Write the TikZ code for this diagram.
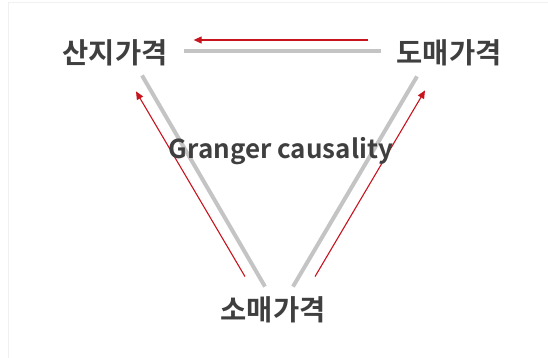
\documentclass[tikz,border=0pt]{standalone}
\usepackage{fontspec}
\usepackage{tikz}
\usetikzlibrary{arrows.meta,positioning,calc}
\newfontfamily\krfont{Noto Sans CJK KR Bold}
\definecolor{inkgray}{HTML}{3F3F3F}
\definecolor{linkgray}{HTML}{C4C4C4}
\definecolor{causered}{HTML}{C8141E}
\definecolor{framegray}{HTML}{F0F0F0}
\tikzset{
  pricebox/.style={
    inner sep=0pt, text=inkgray,
    font=\krfont\fontsize{28.5}{32}\selectfont
  },
  titlenode/.style={
    inner sep=0pt, text=inkgray,
    font=\krfont\fontsize{26}{30}\selectfont
  },
  linkline/.style={
    draw=linkgray, line width=4pt
  },
  causearrow/.style={
    -{Triangle[length=8pt, width=7pt]}, line width=1.1pt, color=causered
  },
}
\begin{document}
\begin{tikzpicture}[x=1pt, y=-1pt]
\useasboundingbox (0,0) rectangle (548,358);

% faint frame
\draw[framegray, line width=1pt] (8,358) -- (8,3) -- (548,3);

% Price nodes
\node[pricebox] (sanji) at (115,53) {산지가격};
\node[pricebox] (domae) at (449,53) {도매가격};
\node[pricebox] (somae) at (273,310) {소매가격};

% Gray links
\draw[linkline] ([xshift=16pt,yshift=2pt]sanji.east) -- ([xshift=-15pt,yshift=2pt]domae.west);
\draw[linkline] ([xshift=27pt,yshift=-9pt]sanji.south) -- ([xshift=-8pt,yshift=10pt]somae.north);
\draw[linkline] ([xshift=-32pt,yshift=-10pt]domae.south) -- ([xshift=20pt,yshift=10pt]somae.north);

% Causality arrows
\draw[causearrow] ([xshift=-28pt,yshift=13pt]domae.west) -- ([xshift=26pt,yshift=13pt]sanji.east);
\draw[causearrow] ([xshift=-28pt,yshift=20pt]somae.north) -- ([xshift=21pt,yshift=-25pt]sanji.south);
\draw[causearrow] ([xshift=42pt,yshift=20pt]somae.north) -- ([xshift=-24pt,yshift=-24pt]domae.south);

% Label on top of the links
\node[titlenode] (granger) at (281,151) {Granger causality};

\end{tikzpicture}
\end{document}
